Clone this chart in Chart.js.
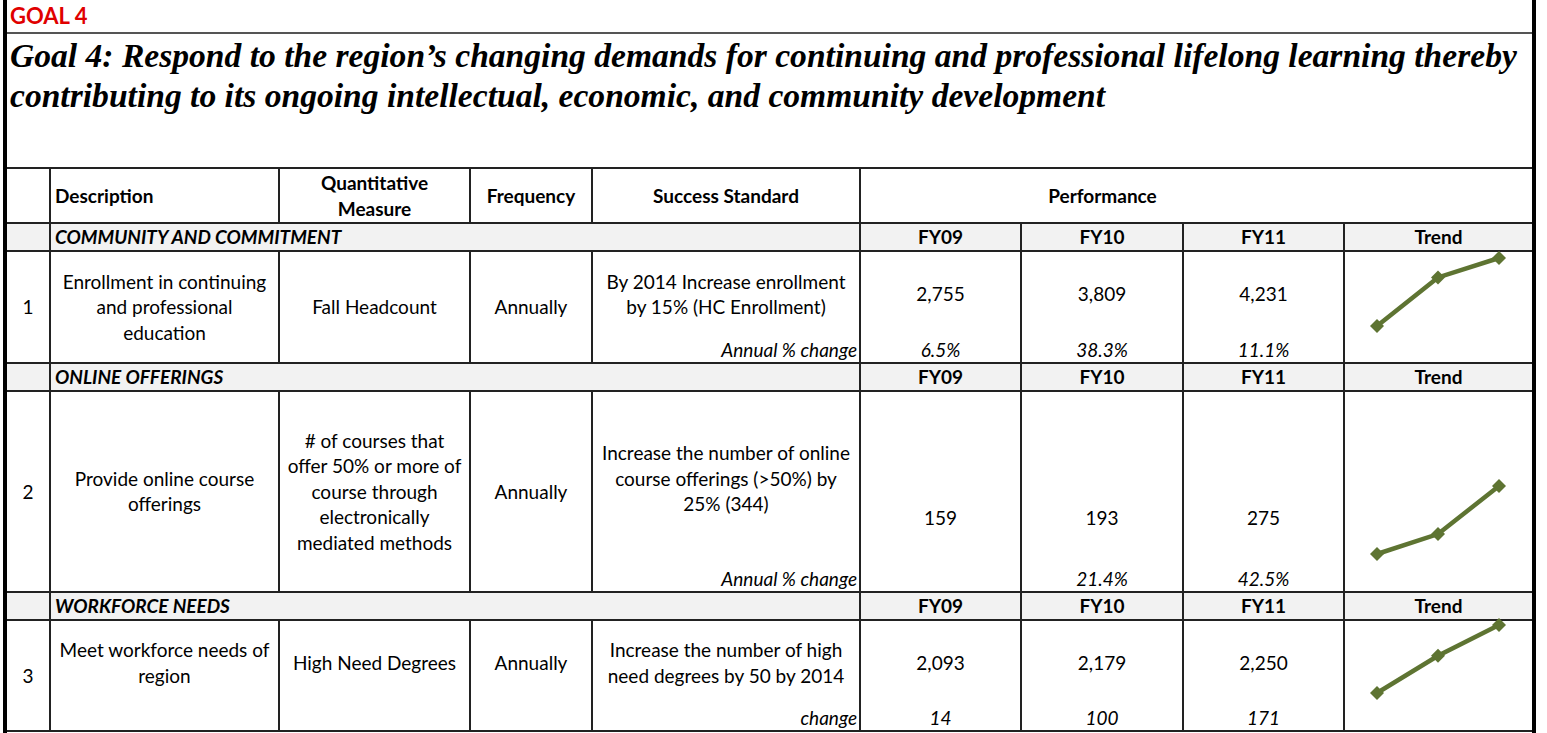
<!DOCTYPE html>
<html>
<head>
<meta charset="utf-8">
<script src="https://cdn.jsdelivr.net/npm/chart.js@4.4.0/dist/chart.umd.min.js"></script>
<style>
    body { margin: 0; background: #fff; font-family: Lato, sans-serif; color: #000; }
    #sheet { position: absolute; left: 3px; top: 0; width: 1525px; height: 733px;
             border-left: 4px solid #000; border-right: 4px solid #000; }
    #goal { height: 32px; border-bottom: 2px solid #555; color: #e00000; font-weight: bold;
            font-size: 22px; line-height: 32px; padding-left: 3px; }
    #title { font-family: "Liberation Serif", serif; font-weight: bold; font-style: italic;
             font-size: 33.6px; line-height: 40px; padding: 2px 0 0 3px; white-space: pre-line; }
    #grid { position: absolute; left: 0; top: 167px; border-collapse: collapse; table-layout: fixed; width: 1525px; }
    #grid td { border: 2px solid #222; padding: 0 4px; text-align: center; vertical-align: middle;
               font-size: 19px; line-height: 25.5px; white-space: pre-line; overflow: visible; }
    #grid td.first { border-left-style: hidden; }
    #grid td.last { border-right-style: hidden; }
    #grid tr.sec td { background: #f2f2f2; font-weight: bold; }
    #grid td.left { text-align: left; }
    #grid td.right { text-align: right; padding-right: 2px; }
    #grid td.b { font-weight: bold; }
    #grid td.bi { font-weight: bold; font-style: italic; }
    #grid td.it { font-style: italic; }
    #grid td.up { border-bottom-style: hidden; }
    #grid td.lo { border-top-style: hidden; }
    #grid td.perf { border-right-style: hidden; }
    #grid td.trend { position: relative; padding: 0; }
    .spark { position: absolute; }
</style>
</head>
<body>
<div id="sheet">
    <div id="goal">GOAL 4</div>
    <div id="title"></div>
    <table id="grid"></table>
</div>
<script>
// Sheet text
const goalTitle = 'Goal 4: Respond to the region\u2019s changing demands for continuing and professional lifelong learning thereby\ncontributing to its ongoing intellectual, economic, and community development';
const headers = ['Description', 'Quantitative\nMeasure', 'Frequency', 'Success Standard', 'Performance'];
const years = ['FY09', 'FY10', 'FY11'];
const sections = ['COMMUNITY AND COMMITMENT', 'ONLINE OFFERINGS', 'WORKFORCE NEEDS'];
const descriptions = [
    'Enrollment in continuing\nand professional\neducation',
    'Provide online course\nofferings',
    'Meet workforce needs of\nregion'
];
const measures = [
    'Fall Headcount',
    '# of courses that\noffer 50% or more of\ncourse through\nelectronically\nmediated methods',
    'High Need Degrees'
];
const frequencies = ['Annually', 'Annually', 'Annually'];
const standards = [
    'By 2014 Increase enrollment\nby 15% (HC Enrollment)',
    'Increase the number of online\ncourse offerings (>50%) by\n25% (344)',
    'Increase the number of high\nneed degrees by 50 by 2014'
];
const changeLabels = ['Annual % change', 'Annual % change', 'change'];

// Performance values
const enrollment = [2755, 3809, 4231];
const onlineCourses = [159, 193, 275];
const highNeedDegrees = [2093, 2179, 2250];
const enrollmentChange = ['6.5%', '38.3%', '11.1%'];
const onlineChange = ['', '21.4%', '42.5%'];
const degreeChange = ['14', '100', '171'];

const rowValues = [enrollment, onlineCourses, highNeedDegrees];
const rowChanges = [enrollmentChange, onlineChange, degreeChange];

// layout of the sheet
const colWidths = [43, 229, 191, 122, 268, 161, 162, 161, 188];
const sectionHeights = [27, 27, 27];
const rowLayout = [
    { upper: 86, lower: 24, spanLeft: true, valuePad: 0, sparkTop: 7 },
    { upper: 175, lower: 26, spanLeft: true, valuePad: 35, sparkTop: 95 },
    { upper: 85, lower: 26, spanLeft: false, valuePad: 0, sparkTop: 5 }
];
const sparkPad = 10;
const olive = '#5e7432';

document.getElementById('title').textContent = goalTitle;

function fmt(n) {
    return n.toLocaleString('en-US');
}

let html = '<colgroup>' + colWidths.map(w => '<col style="width:' + w + 'px">').join('') + '</colgroup>';
html += '<tr style="height:55px"><td class="first"></td>' +
    '<td class="b left">' + headers[0] + '</td>' +
    '<td class="b">' + headers[1] + '</td>' +
    '<td class="b">' + headers[2] + '</td>' +
    '<td class="b">' + headers[3] + '</td>' +
    '<td class="b perf" colspan="3">' + headers[4] + '</td><td class="last"></td></tr>';

for (let i = 0; i < sections.length; i++) {
    const lay = rowLayout[i];
    html += '<tr class="sec" style="height:' + sectionHeights[i] + 'px"><td class="first"></td>' +
        '<td class="bi left" colspan="4">' + sections[i] + '</td>' +
        years.map(y => '<td>' + y + '</td>').join('') + '<td class="last">Trend</td></tr>';

    // upper part of the row
    html += '<tr style="height:' + lay.upper + 'px"><td class="first" rowspan="2">' + (i + 1) + '</td>';
    const leftCells = [descriptions[i], measures[i], frequencies[i]];
    leftCells.forEach(t => {
        html += lay.spanLeft ? '<td rowspan="2">' + t + '</td>' : '<td class="up">' + t + '</td>';
    });
    html += '<td class="up">' + standards[i] + '</td>';
    rowValues[i].forEach(v => {
        const style = lay.valuePad ? ' style="vertical-align:bottom;padding-bottom:' + lay.valuePad + 'px"' : '';
        html += '<td class="up"' + style + '>' + fmt(v) + '</td>';
    });
    html += '<td class="trend last" rowspan="2"><div class="spark" style="left:' + (32 - sparkPad) +
        'px;top:' + (lay.sparkTop - 1 - sparkPad) + 'px;width:' + (122 + 2 * sparkPad) +
        'px;height:' + (68 + 2 * sparkPad) + 'px"><canvas id="spark' + i + '"></canvas></div></td></tr>';

    // lower part of the row
    html += '<tr style="height:' + lay.lower + 'px">';
    if (!lay.spanLeft) html += '<td class="lo"></td><td class="lo"></td><td class="lo"></td>';
    html += '<td class="lo right it">' + changeLabels[i] + '</td>';
    html += rowChanges[i].map(c => '<td class="lo it">' + c + '</td>').join('') + '</tr>';
}
document.getElementById('grid').innerHTML = html;

// Trend sparklines
rowValues.forEach(function(vals, i) {
    new Chart(document.getElementById('spark' + i), {
        type: 'line',
        data: {
            labels: years,
            datasets: [{
                data: vals,
                borderColor: olive,
                backgroundColor: olive,
                borderWidth: 4.5,
                pointStyle: 'rectRot',
                pointRadius: 7,
                pointBorderWidth: 0,
                tension: 0,
                clip: false
            }]
        },
        options: {
            responsive: true,
            maintainAspectRatio: false,
            animation: false,
            events: [],
            layout: { padding: sparkPad },
            plugins: {
                legend: { display: false },
                tooltip: { enabled: false }
            },
            scales: {
                x: { display: false, offset: false },
                y: { display: false, min: Math.min(...vals), max: Math.max(...vals) }
            }
        }
    });
});
</script>
</body>
</html>
